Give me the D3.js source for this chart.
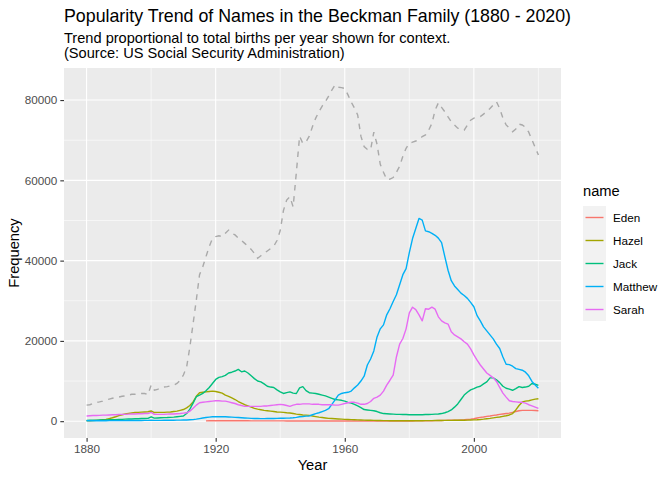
<!DOCTYPE html>
<html>
<head>
<meta charset="utf-8">
<script src="https://cdn.jsdelivr.net/npm/d3@7"></script>
<style>
  body { margin: 0; background: #fff; }
  text { font-family: "Liberation Sans", Arial, Helvetica, sans-serif; }
</style>
</head>
<body>
<svg id="chart" width="672" height="480"></svg>
<script>
// yearly values 1880 - 2020
const firstYear = 1880;
const names = ["Eden", "Hazel", "Jack", "Matthew", "Sarah"];
const nameColours = ["#F8766D", "#A3A500", "#00BF7D", "#00B0F6", "#E76BF3"];

const totalTrend = [
    4000, 4100, 4400, 4700, 4800, 5000, 5300, 5500, 5700, 5900,
    6000, 6200, 6300, 6500, 6700, 6700, 6800, 6900, 6900, 6600,
    9000, 7700, 7900, 8400, 8500, 8600, 8800, 9000, 9400, 10200,
    11500, 13500, 18500, 24300, 30200, 36500, 38500, 41000, 43500, 45500,
    46000, 46200, 46000, 46800, 47600, 46800, 46400, 45600, 45000, 44300,
    43600, 42800, 41800, 40600, 41200, 41800, 42400, 43000, 43600, 45000,
    47500, 52500, 55100, 55900, 53400, 62000, 71000, 69200, 69600, 71000,
    73400, 75500, 77100, 78500, 79600, 81000, 82500, 83800, 83200, 83100,
    82900, 81300, 79500, 78000, 76300, 71000, 68400, 67700, 67600, 72000,
    69000, 64000, 62000, 60200, 60300, 60700, 62000, 63500, 66000, 68000,
    69200, 69500, 69800, 70200, 70900, 71300, 72500, 74200, 77500, 79300,
    78200, 77100, 75800, 74600, 73800, 73000, 72800, 72500, 73800, 75000,
    75500, 75700, 75900, 76500, 77200, 77900, 78800, 79600, 77900, 75500,
    73800, 73000, 72100, 72800, 74000, 73800, 73200, 72000, 70100, 68200,
    66300
];

const eden = [
    null, null, null, null, null, null, null, null, null, null,
    null, null, null, null, null, null, null, null, null, null,
    null, null, null, null, null, null, null, null, null, null,
    null, null, null, null, null, null, null, 80, 90, 100,
    100, 110, 110, 100, 100, 100, 90, 90, 90, 90,
    90, 80, 80, 80, 80, 70, 70, 70, 70, 70,
    70, 70, 60, 60, 60, 60, 60, 60, 60, 60,
    60, 60, 60, 60, 50, 50, 50, 50, 50, 50,
    50, 50, 50, 50, 50, 50, 50, 50, 50, 50,
    50, 50, 50, 50, 50, 50, 50, 50, 50, 50,
    60, 60, 70, 70, 80, 90, 100, 120, 140, 160,
    180, 200, 220, 240, 250, 260, 300, 350, 420, 500,
    600, 800, 950, 1050, 1200, 1300, 1450, 1550, 1700, 1800,
    1900, 2000, 2200, 2400, 2600, 2700, 2700, 2700, 2700, 2650,
    2600
];

const hazel = [
    100, 100, 150, 200, 250, 350, 450, 650, 850, 1100,
    1400, 1600, 1800, 1950, 2050, 2150, 2200, 2250, 2300, 2350,
    2550, 2150, 2200, 2200, 2200, 2250, 2300, 2400, 2500, 2700,
    2900, 3300, 3900, 4800, 6200, 7100, 7200, 7300, 7400, 7500,
    7400, 7200, 7000, 6500, 6200, 5800, 5400, 4900, 4500, 4100,
    3800, 3500, 3200, 3000, 2850, 2700, 2600, 2500, 2400, 2300,
    2250, 2200, 2100, 2050, 1900, 1750, 1650, 1550, 1500, 1450,
    1300, 1150, 1000, 900, 800, 700, 650, 600, 550, 500,
    450, 420, 380, 350, 320, 300, 270, 250, 230, 200,
    180, 160, 150, 130, 120, 110, 100, 100, 100, 100,
    100, 100, 100, 110, 120, 130, 140, 150, 160, 170,
    180, 190, 200, 210, 220, 230, 240, 250, 270, 290,
    320, 360, 420, 500, 600, 700, 820, 950, 1050, 1200,
    1350, 1550, 1900, 2800, 3900, 4800, 5000, 5100, 5300, 5500,
    5600
];

const jack = [
    200, 220, 240, 260, 280, 300, 320, 340, 360, 390,
    420, 450, 500, 530, 560, 600, 620, 650, 660, 700,
    1100, 750, 800, 850, 880, 900, 950, 1000, 1100, 1200,
    1300, 1900, 3000, 4500, 6100, 6500, 6900, 7600, 8400, 9400,
    10400, 10900, 11100, 11400, 12000, 12200, 12500, 12900, 12300, 12500,
    12000, 11300, 10600, 10000, 9800, 9300, 8700, 8500, 8400, 7800,
    7300, 6900, 7100, 7300, 7000, 6900, 8300, 8600, 7600, 7100,
    7000, 6900, 6700, 6500, 6300, 6000, 5700, 5400, 5300, 5200,
    5000, 4700, 4500, 4200, 3800, 3400, 2900, 2800, 2700, 2600,
    2400, 2100, 1900, 1850, 1800, 1750, 1700, 1700, 1650, 1650,
    1600, 1600, 1600, 1600, 1600, 1650, 1650, 1700, 1750, 1800,
    1900, 2100, 2400, 2800, 3500, 4300, 5400, 6500, 7200, 7800,
    8100, 8500, 8700, 9300, 9800, 10800, 10800, 10300, 9600, 8700,
    8200, 8000, 7700, 8100, 8600, 8400, 8500, 8700, 9400, 9200,
    8900
];

const matthew = [
    100, 100, 100, 110, 110, 120, 120, 130, 130, 140,
    140, 150, 150, 160, 160, 170, 180, 180, 190, 200,
    250, 200, 200, 210, 220, 230, 240, 250, 260, 270,
    280, 300, 350, 400, 500, 650, 800, 900, 1000, 1100,
    1100, 1100, 1100, 1100, 1050, 1000, 950, 900, 850, 800,
    750, 700, 660, 650, 640, 640, 650, 660, 680, 700,
    720, 740, 770, 800, 850, 950, 1100, 1150, 1250, 1300,
    1600, 1900, 2100, 2400, 2700, 3100, 4200, 5300, 6500, 6900,
    7100, 7200, 7500, 8300, 9000, 10000, 11200, 14000, 15500, 17500,
    21000, 23000, 24000, 26500, 28000, 29800, 31500, 34000, 36500, 38000,
    42000, 45500, 48000, 50500, 50100, 47400, 47200, 46800, 46300, 45600,
    44500, 41000, 37600, 35000, 33700, 32800, 31900, 31300, 30600, 29600,
    28500, 26300, 25000, 23500, 22500, 21500, 20500, 19200, 18100, 16000,
    14200, 14100, 13700, 13100, 12900, 12700, 12200, 11300, 9900, 9000,
    8200
];

const sarah = [
    1300, 1350, 1400, 1400, 1450, 1500, 1500, 1550, 1600, 1600,
    1650, 1700, 1700, 1750, 1800, 1800, 1850, 1850, 1900, 1900,
    2200, 1700, 1700, 1700, 1700, 1750, 1800, 1800, 1850, 1900,
    2000, 2100, 2500, 3200, 4000, 4600, 4700, 4800, 4900, 5000,
    5100, 5100, 5000, 5000, 4800, 4600, 4400, 4100, 3900, 3700,
    3700, 3700, 3700, 3700, 3700, 3800, 3800, 3900, 4000, 4100,
    4200, 4100, 3900, 3700, 4000, 4200, 4200, 4300, 4300, 4300,
    4200, 4200, 4200, 4100, 4100, 4100, 4100, 4000, 4000, 4200,
    4400, 4600, 4700, 4700, 4500, 4200, 4200, 4400, 4900, 5700,
    6000, 6500, 7500, 9000, 10200, 11500, 16000, 19200, 20600, 23000,
    27000, 28400, 27800, 26500, 25000, 28000, 27900, 28400, 27900, 26000,
    25000, 24500, 24200, 22300, 21500, 21000, 20500, 19800, 19200, 18000,
    16500, 15200, 14000, 13000, 12000, 11400, 10800, 9900, 8400, 7000,
    6000, 5100, 4900, 4800, 4700, 4700, 4500, 4100, 3800, 3500,
    3200
];

const xTicks = [1880, 1920, 1960, 2000];
const yTicks = [0, 20000, 40000, 60000, 80000];

const nameSeries = [eden, hazel, jack, matthew, sarah];
const years = d3.range(totalTrend.length).map(i => firstYear + i);

// ggplot-like look
const panel = {left: 64, right: 561, top: 68, bottom: 438};
const svg = d3.select("#chart");

// 5% expansion on both scales, like ggplot
let xExt = d3.extent(years);
let xPad = (xExt[1] - xExt[0]) * 0.05;
let x = d3.scaleLinear().domain([xExt[0] - xPad, xExt[1] + xPad]).range([panel.left, panel.right]);

let allVals = totalTrend.concat(...nameSeries).filter(v => v !== null);
let yMax = d3.max(allVals), yMin = 0;
let yPad = (yMax - yMin) * 0.05;
let y = d3.scaleLinear().domain([yMin - yPad, yMax + yPad]).range([panel.bottom, panel.top]);

svg.append("rect")
    .attr("x", panel.left).attr("y", panel.top)
    .attr("width", panel.right - panel.left).attr("height", panel.bottom - panel.top)
    .attr("fill", "#EBEBEB");

// minor gridlines sit halfway between majors
let xMinor = [1900, 1940, 1980, 2020];
let yMinor = [10000, 30000, 50000, 70000];
svg.append("g").selectAll("line").data(xMinor).enter().append("line")
    .attr("x1", d => x(d)).attr("x2", d => x(d))
    .attr("y1", panel.top).attr("y2", panel.bottom)
    .attr("stroke", "#fff").attr("stroke-width", 0.55);
svg.append("g").selectAll("line").data(yMinor).enter().append("line")
    .attr("y1", d => y(d)).attr("y2", d => y(d))
    .attr("x1", panel.left).attr("x2", panel.right)
    .attr("stroke", "#fff").attr("stroke-width", 0.55);
svg.append("g").selectAll("line").data(xTicks).enter().append("line")
    .attr("x1", d => x(d)).attr("x2", d => x(d))
    .attr("y1", panel.top).attr("y2", panel.bottom)
    .attr("stroke", "#fff").attr("stroke-width", 1.1);
svg.append("g").selectAll("line").data(yTicks).enter().append("line")
    .attr("y1", d => y(d)).attr("y2", d => y(d))
    .attr("x1", panel.left).attr("x2", panel.right)
    .attr("stroke", "#fff").attr("stroke-width", 1.1);

// axes
let xAxis = svg.append("g")
    .attr("transform", `translate(0,${panel.bottom})`)
    .call(d3.axisBottom(x).tickValues(xTicks).tickFormat(d3.format("d")).tickSize(3.7).tickPadding(3));
let yAxis = svg.append("g")
    .attr("transform", `translate(${panel.left},0)`)
    .call(d3.axisLeft(y).tickValues(yTicks).tickFormat(d3.format("d")).tickSize(3.7).tickPadding(3));
[xAxis, yAxis].forEach(function (ax) {
    ax.select(".domain").remove();
    ax.selectAll(".tick line").attr("stroke", "#333333").attr("stroke-width", 1.1);
    ax.selectAll(".tick text").attr("fill", "#4D4D4D").style("font-size", "11.7px")
        .style("font-family", "'Liberation Sans', Arial, sans-serif");
});

// lines
let line = d3.line()
    .defined(d => d[1] !== null)
    .x(d => x(d[0]))
    .y(d => y(d[1]));

svg.append("path")
    .datum(years.map((yr, i) => [yr, totalTrend[i]]))
    .attr("d", line)
    .attr("fill", "none")
    .attr("stroke", "#A9A9A9")
    .attr("stroke-width", 1.4)
    .attr("stroke-dasharray", "5.6,5.6");

for (let s = 0; s < names.length; s++) {
    svg.append("path")
        .datum(years.map((yr, i) => [yr, nameSeries[s][i]]))
        .attr("d", line)
        .attr("fill", "none")
        .attr("stroke", nameColours[s])
        .attr("stroke-width", 1.4)
        .attr("stroke-linejoin", "round");
}

// titles
svg.append("text").attr("x", 64).attr("y", 22)
    .style("font-size", "17.8px").attr("fill", "#000")
    .text("Popularity Trend of Names in the Beckman Family (1880 - 2020)");
svg.append("text").attr("x", 64).attr("y", 43)
    .style("font-size", "14.6px").attr("fill", "#000")
    .text("Trend proportional to total births per year shown for context.");
svg.append("text").attr("x", 64).attr("y", 58)
    .style("font-size", "14.6px").attr("fill", "#000")
    .text("(Source: US Social Security Administration)");

svg.append("text")
    .attr("x", (panel.left + panel.right) / 2).attr("y", 470)
    .attr("text-anchor", "middle")
    .style("font-size", "14.7px")
    .text("Year");
svg.append("text")
    .attr("transform", `translate(19,${(panel.top + panel.bottom) / 2}) rotate(-90)`)
    .attr("text-anchor", "middle")
    .style("font-size", "14.7px")
    .text("Frequency");

// legend
let legend = svg.append("g").attr("transform", "translate(583,206)");
legend.append("text").attr("x", 0).attr("y", -10)
    .style("font-size", "14.7px").text("name");
let keySize = 23;
let keys = legend.selectAll("g.key").data(names).enter().append("g")
    .attr("class", "key")
    .attr("transform", (d, i) => `translate(0,${i * keySize})`);
keys.append("rect").attr("width", keySize).attr("height", keySize).attr("fill", "#F2F2F2");
keys.append("line")
    .attr("x1", 2.5).attr("x2", keySize - 2.5)
    .attr("y1", keySize / 2).attr("y2", keySize / 2)
    .attr("stroke", (d, i) => nameColours[i]).attr("stroke-width", 1.4);
keys.append("text")
    .attr("x", keySize + 7).attr("y", keySize / 2 + 4)
    .style("font-size", "11.7px").attr("fill", "#000")
    .text(d => d);
</script>
</body>
</html>
